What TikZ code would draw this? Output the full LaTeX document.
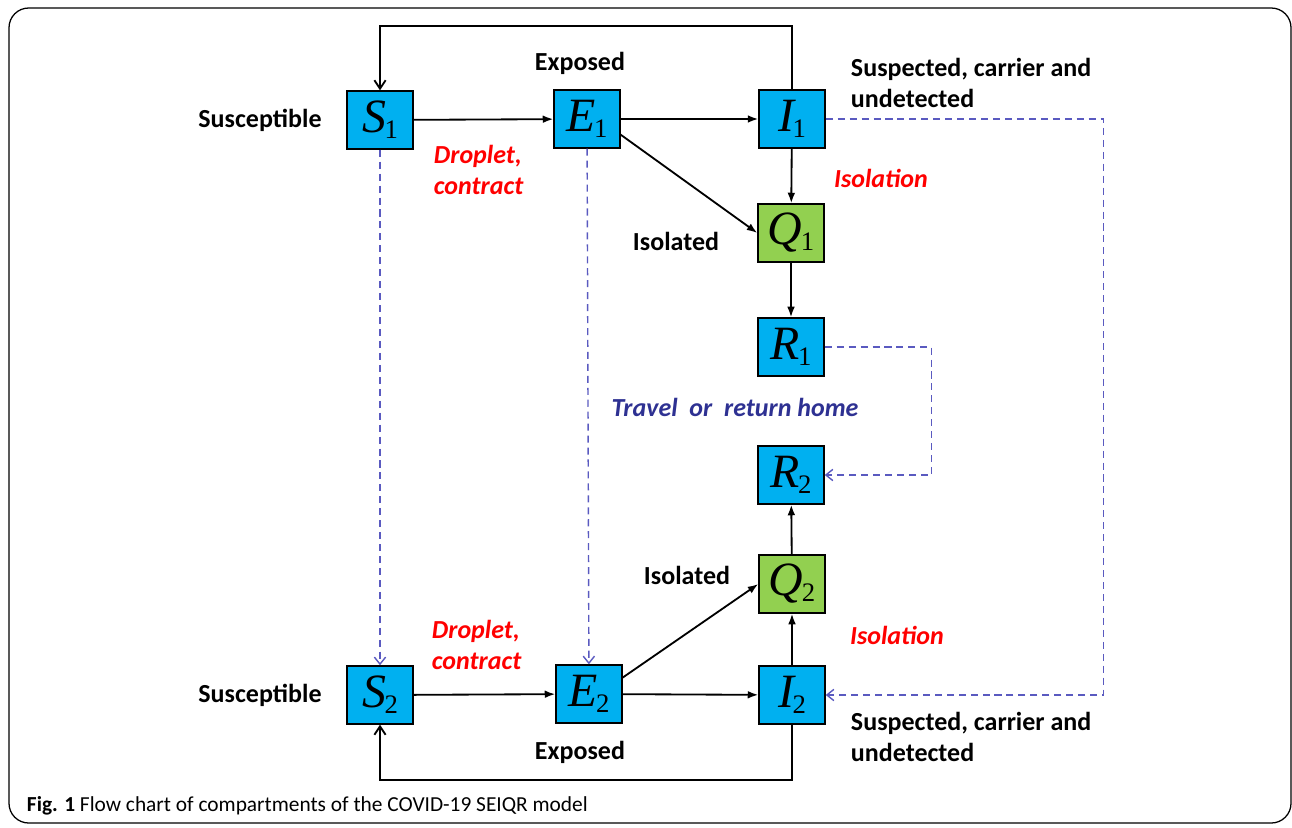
\documentclass[tikz,border=0pt]{standalone}
\usepackage{fontspec}
\setmainfont{Carlito}
\newfontfamily\boxfont{Liberation Serif}
\usepackage{xcolor}
\usetikzlibrary{positioning, arrows.meta}

\definecolor{boxblue}{HTML}{00B0F0}
\definecolor{boxgreen}{HTML}{92D050}
\definecolor{travelblue}{HTML}{2E3192}
\definecolor{dashblue}{HTML}{5A5AC0}

% compartment symbol with its index
\newcommand{\cmp}[2]{{\fontsize{34}{34}\selectfont\itshape #1}\kern-1pt\raisebox{-0.9ex}{\fontsize{19}{19}\selectfont #2}}

\begin{document}
\begin{tikzpicture}[x=0.025cm, y=-0.025cm, >=Latex,
    comp/.style = {draw, line width=1pt, fill=boxblue, minimum width=1.65cm, minimum height=1.45cm, inner sep=0pt, font=\boxfont},
    iso/.style = {comp, fill=boxgreen},
    flow/.style = {-{Latex[length=7.5pt, width=5.5pt]}, line width=1.3pt},
    back/.style = {-{Straight Barb[length=6pt, width=8pt]}, line width=1.3pt},
    link/.style = {-{Straight Barb[length=5pt, width=8pt]}, dashblue, line width=1pt, dash pattern=on 5pt off 3.5pt},
    lbl/.style = {font=\fontsize{18.5}{22}\selectfont\bfseries, align=left},
    cause/.style = {font=\fontsize{18.5}{22}\selectfont\bfseries\itshape, text=red, align=left}]

    \useasboundingbox (0,0) rectangle (1292,827);
    \draw[line width=0.9pt, rounded corners=14] (9,8) rectangle (1291,823);

    % first area
    \node[comp] (S1) at (380,120) {\cmp{S}{1}};
    \node[comp] (E1) at (587,119) {\cmp{E}{1}};
    \node[comp] (I1) at (792,119) {\cmp{I}{1}};
    \node[iso]  (Q1) at (791,233) {\cmp{Q}{1}};
    \node[comp] (R1) at (791,347) {\cmp{R}{1}};

    % second area
    \node[comp] (R2) at (791,475) {\cmp{R}{2}};
    \node[iso]  (Q2) at (792,584) {\cmp{Q}{2}};
    \node[comp] (S2) at (380,695) {\cmp{S}{2}};
    \node[comp] (E2) at (589,694) {\cmp{E}{2}};
    \node[comp] (I2) at (792,695) {\cmp{I}{2}};

    % labels
    \node[lbl] (sus1) at (260,120) {Susceptible};
    \node[lbl] (exp1) at (580,63) {Exposed};
    \node[lbl, anchor=west] (sud1) at (846,83) {Suspected, carrier and\\undetected};
    \node[cause, anchor=west] (drop1) at (429,170) {Droplet,\\contract};
    \node[cause] (isn1) at (881,178) {Isolation};
    \node[lbl] (isd1) at (676,241) {Isolated};
    \node[font=\fontsize{18.5}{22}\selectfont\bfseries\itshape, text=travelblue] (trav) at (735,407) {Travel\ \ or\ \ return home};
    \node[lbl] (isd2) at (687,575) {Isolated};
    \node[cause, anchor=west] (drop2) at (427,645) {Droplet,\\contract};
    \node[cause] (isn2) at (897,635) {Isolation};
    \node[lbl] (sus2) at (260,695) {Susceptible};
    \node[lbl] (exp2) at (580,752) {Exposed};
    \node[lbl, anchor=west] (sud2) at (846,737) {Suspected, carrier and\\undetected};

    \node[anchor=west, font=\fontsize{15.2}{17}\selectfont] (cap) at (22,806) {\textbf{Fig. 1} Flow chart of compartments of the COVID-19 SEIQR model};

    % flows
    \draw[flow] (S1) -- (E1);
    \draw[flow] (E1) -- (I1);
    \draw[flow] (E1.-25) -- (Q1.west);
    \draw[flow] (I1) -- (Q1);
    \draw[flow] (Q1) -- (R1);
    \draw[back] (I1.north) -- ++(0,-63) -| (S1.north);

    \draw[flow] (S2) -- (E2);
    \draw[flow] (E2) -- (I2);
    \draw[flow] (E2.26) -- (Q2.west);
    \draw[flow] (I2) -- (Q2);
    \draw[flow] (Q2) -- (R2);
    \draw[back] (I2.south) -- ++(0,55) -| (S2.south);

    % travel between areas
    \draw[link] (S1) -- (S2);
    \draw[link] (E1) -- (E2);
    \draw[link] (I1.east) -- ++(278,0) |- (I2.east);
    \draw[link] (R1.east) -- ++(107,0) |- (R2.east);
\end{tikzpicture}
\end{document}
